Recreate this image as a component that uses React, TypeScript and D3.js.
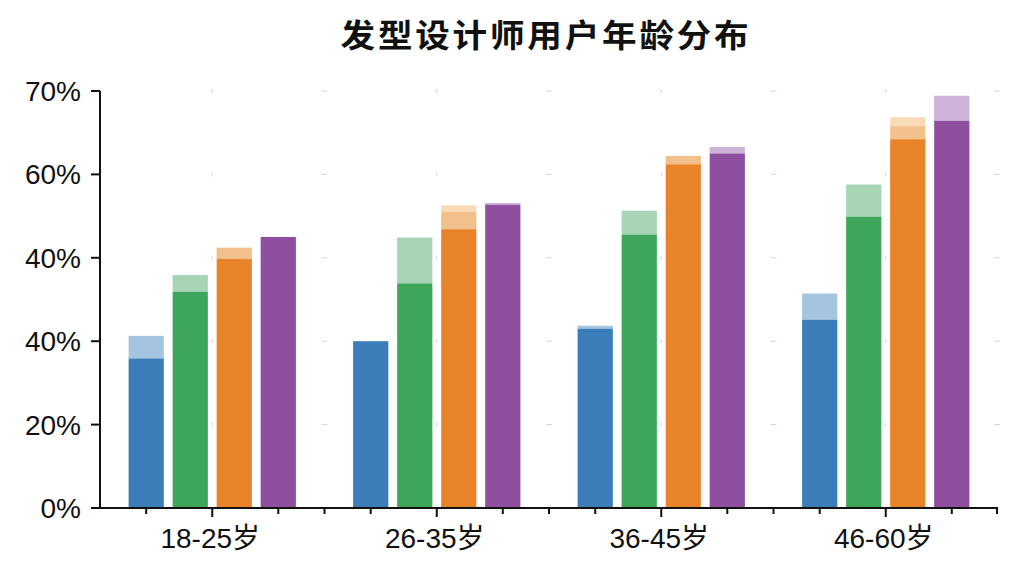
import React from 'react';
import * as d3 from 'd3';

// age groups on the x axis
const categories = ['18-25岁', '26-35岁', '36-45岁', '46-60岁'];
const seriesKeys = ['blue', 'green', 'orange', 'purple'];

// y tick labels as printed on the chart (evenly spaced, 0 → 70)
const yTickLabels = ['0%', '20%', '40%', '40%', '60%', '70%'];

// solid part of each bar (percent on the 0–70 scale)
const blueBase = [25.1, 28.0, 30.1, 31.6];
const greenBase = [36.3, 37.7, 45.9, 48.9];
const orangeBase = [41.8, 46.8, 57.7, 61.9];
const purpleBase = [45.5, 50.9, 59.5, 65.0];

// top of the first light cap
const blueCap = [28.9, 28.0, 30.6, 36.0];
const greenCap = [39.1, 45.4, 49.9, 54.3];
const orangeCap = [43.7, 49.7, 59.1, 64.1];
const purpleCap = [45.5, 51.2, 60.6, 69.2];

// top of the second (palest) cap, only orange has one
const orangeCap2 = [43.7, 50.8, 59.1, 65.6];

const solidColor: Record<string, string> = {
  blue: '#3a7db8',
  green: '#3ea65b',
  orange: '#e8832a',
  purple: '#8e4f9e',
};
const capColor: Record<string, string> = {
  blue: '#a4c4df',
  green: '#a6d4b4',
  orange: '#f2c08c',
  purple: '#cdb3d8',
};
const cap2Color = '#f8dab4';

const base: Record<string, number[]> = { blue: blueBase, green: greenBase, orange: orangeBase, purple: purpleBase };
const cap: Record<string, number[]> = { blue: blueCap, green: greenCap, orange: orangeCap, purple: purpleCap };

const W = 1024;
const H = 576;
const M = { top: 91, right: 27, bottom: 68, left: 100 };
const LABEL_FONT = "'Liberation Sans', Arial, 'Noto Sans CJK SC', sans-serif";

export default function App() {
  const y = d3.scaleLinear().domain([0, 70]).range([H - M.bottom, M.top]);
  const x0 = d3.scaleBand<string>().domain(categories).range([M.left, 998]).paddingInner(0).paddingOuter(0);
  const x1 = d3.scaleBand<string>().domain(seriesKeys).range([0, x0.bandwidth()]).paddingInner(0.2).paddingOuter(0.65);

  const yTicks = yTickLabels.map((_, i) => (70 / (yTickLabels.length - 1)) * i);
  const y0 = y(0);

  // x axis tick positions
  const majorTicks = categories.map(c => (x0(c) ?? 0) + x0.bandwidth() / 2);
  const minorTicks: number[] = [];
  categories.forEach(c => {
    const gx = x0(c) ?? 0;
    minorTicks.push(gx + (x1('blue') ?? 0) + x1.bandwidth() / 2);
    minorTicks.push(gx + (x1('purple') ?? 0) + x1.bandwidth() / 2);
  });
  const boundaries = categories.slice(1).map(c => x0(c) ?? 0);

  return (
    <svg width={W} height={H} style={{ position: 'fixed', left: 0, top: 0, background: '#fff' }}>
      <text
        transform="translate(546,47) scale(1.08,1)"
        textAnchor="middle"
        fontFamily="'Noto Sans CJK SC', sans-serif"
        fontWeight={700}
        fontSize={32}
        letterSpacing={2.6}
        fill="#111"
      >
        发型设计师用户年龄分布
      </text>

      {/* faint grid marks */}
      <g stroke="#d6d6d6" strokeWidth={1}>
        {yTicks.slice(1).map(t => (
          <g key={t}>
            {majorTicks.map(mx => (
              <line key={`v${mx}`} x1={mx} x2={mx} y1={y(t) - 2} y2={y(t) + 2} />
            ))}
            {[...boundaries, 997].map(bx => (
              <line key={`h${bx}`} x1={bx - 3} x2={bx + 3} y1={y(t)} y2={y(t)} />
            ))}
          </g>
        ))}
      </g>

      {/* bars */}
      {categories.map((c, i) => (
        <g key={c} transform={`translate(${x0(c)},0)`}>
          {seriesKeys.map(k => {
            const bx = x1(k) ?? 0;
            const bw = x1.bandwidth();
            const b = base[k][i];
            const t = cap[k][i];
            return (
              <g key={k}>
                {k === 'orange' && orangeCap2[i] > t && (
                  <rect x={bx} width={bw} y={y(orangeCap2[i])} height={y(t) - y(orangeCap2[i])} fill={cap2Color} />
                )}
                {t > b && <rect x={bx} width={bw} y={y(t)} height={y(b) - y(t)} fill={capColor[k]} />}
                <rect x={bx} width={bw} y={y(b)} height={y0 - y(b)} fill={solidColor[k]} />
              </g>
            );
          })}
        </g>
      ))}

      {/* y axis */}
      <g stroke="#111" strokeWidth={2}>
        <line x1={M.left} x2={M.left} y1={y(70)} y2={y0} />
        {yTicks.map(t => (
          <line key={t} x1={M.left - 9} x2={M.left} y1={y(t)} y2={y(t)} />
        ))}
      </g>
      {yTicks.map((t, i) => (
        <text
          key={`yl${i}`}
          x={M.left - 19}
          y={y(t)}
          dy="0.36em"
          textAnchor="end"
          fontFamily={LABEL_FONT}
          fontSize={28}
          fill="#111"
        >
          {yTickLabels[i]}
        </text>
      ))}

      {/* x axis */}
      <g stroke="#111" strokeWidth={2}>
        <line x1={92} x2={998} y1={y0} y2={y0} />
        {majorTicks.map(mx => (
          <line key={`M${mx}`} x1={mx} x2={mx} y1={y0} y2={y0 + 9} />
        ))}
        {[...minorTicks, ...boundaries, 997].map(mx => (
          <line key={`m${mx}`} x1={mx} x2={mx} y1={y0} y2={y0 + 6} />
        ))}
      </g>
      {categories.map((c, i) => (
        <text
          key={`xl${c}`}
          x={majorTicks[i] - 2}
          y={548}
          textAnchor="middle"
          fontFamily={LABEL_FONT}
          fontSize={28}
          fill="#111"
        >
          {c}
        </text>
      ))}
    </svg>
  );
}
